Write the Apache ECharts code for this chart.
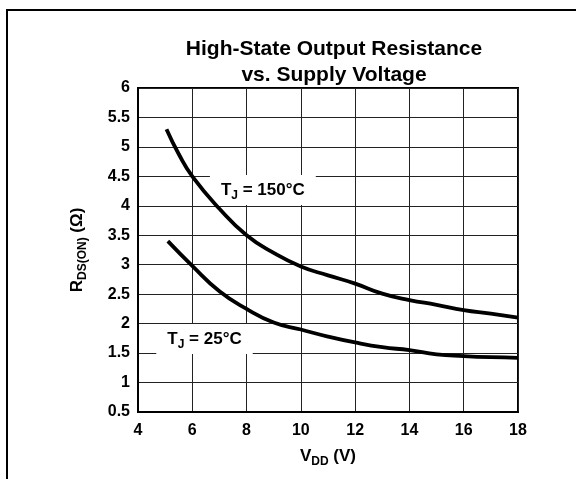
<!DOCTYPE html>
<html>
<head>
<meta charset="utf-8">
<script src="https://cdn.jsdelivr.net/npm/echarts@6/dist/echarts.min.js"></script>
<style>
  html, body { margin: 0; padding: 0; background: #fff; }
  #main { width: 576px; height: 479px; }
</style>
</head>
<body>
<div id="main"></div>
<script>
// values
var vddHot = [5.05, 5.5, 6, 7, 8, 9, 10, 11, 12, 13, 14, 15, 16, 17, 18];
var rdsHot = [5.3, 4.88, 4.5, 3.95, 3.5, 3.2, 2.97, 2.82, 2.68, 2.51, 2.4, 2.32, 2.23, 2.17, 2.1];
var vddRoom = [5.1, 6, 7, 8, 9, 10, 11, 12, 13, 14, 15, 16, 17, 18];
var rdsRoom = [3.4, 2.98, 2.55, 2.25, 2.02, 1.9, 1.78, 1.68, 1.6, 1.55, 1.48, 1.45, 1.43, 1.42];
var labelPos = [[8.6, 4.27], [6.45, 1.74]];
var labelText = ['T{sub|J} = 150°C', 'T{sub|J} = 25°C'];

var font = "'Liberation Sans', Arial, sans-serif";
var subStyle = { fontSize: 12, fontWeight: 'bold', fontFamily: font, verticalAlign: 'bottom', lineHeight: 24 };

function pairs(xs, ys) {
  return xs.map(function (x, i) { return [x, ys[i]]; });
}

var myChart = echarts.init(document.getElementById('main'));
myChart.setOption({
  animation: false,
  title: {
    text: 'High-State Output Resistance\nvs. Supply Voltage',
    left: 329,
    top: 31,
    textAlign: 'center',
    textStyle: { fontFamily: font, fontWeight: 'bold', fontSize: 21, lineHeight: 26, color: '#000' }
  },
  graphic: [{
    type: 'polyline',
    shape: { points: [[7, 479], [7, 10], [576, 10]] },
    style: { stroke: '#000', lineWidth: 2, fill: null }
  }],
  grid: {
    left: 138, right: 58, top: 88, bottom: 67,
    show: true, borderColor: '#000', borderWidth: 2
  },
  xAxis: {
    type: 'value', min: 4, max: 18, interval: 2,
    axisLine: { lineStyle: { color: '#000', width: 2 } },
    axisTick: { show: false },
    splitLine: { lineStyle: { color: '#222', width: 1 } },
    axisLabel: { color: '#000', fontFamily: font, fontWeight: 'bold', fontSize: 16, margin: 11 },
    name: 'V{sub|DD} (V)',
    nameLocation: 'middle',
    nameGap: 32,
    nameTextStyle: {
      color: '#000', fontFamily: font, fontWeight: 'bold', fontSize: 17,
      rich: { sub: subStyle }
    }
  },
  yAxis: {
    type: 'value', min: 0.5, max: 6, interval: 0.5,
    axisLine: { lineStyle: { color: '#000', width: 2 } },
    axisTick: { show: false },
    splitLine: { lineStyle: { color: '#222', width: 1 } },
    axisLabel: { color: '#000', fontFamily: font, fontWeight: 'bold', fontSize: 16, margin: 8 },
    name: 'R{sub|DS(ON)} (Ω)',
    nameLocation: 'middle',
    nameRotate: 90,
    nameGap: 49,
    nameTextStyle: {
      color: '#000', fontFamily: font, fontWeight: 'bold', fontSize: 17,
      rich: { sub: subStyle }
    }
  },
  series: [
    {
      // temperature labels, white boxes sit over the grid but under the curves
      name: 'labels', type: 'scatter', z: 1, symbolSize: 0, silent: true,
      itemStyle: { opacity: 1 },
      data: labelPos.map(function (p, i) {
        return { value: p, label: { formatter: labelText[i] } };
      }),
      label: {
        show: true,
        position: 'inside',
        backgroundColor: '#fff',
        padding: [3, 11],
        color: '#000',
        fontFamily: font,
        fontWeight: 'bold',
        fontSize: 17,
        rich: { sub: subStyle }
      }
    },
    {
      name: '150C', type: 'line', z: 3, smooth: true, showSymbol: false,
      lineStyle: { color: '#000', width: 3.8 },
      data: pairs(vddHot, rdsHot)
    },
    {
      name: '25C', type: 'line', z: 3, smooth: true, showSymbol: false,
      lineStyle: { color: '#000', width: 3.8 },
      data: pairs(vddRoom, rdsRoom)
    }
  ]
});
</script>
</body>
</html>
